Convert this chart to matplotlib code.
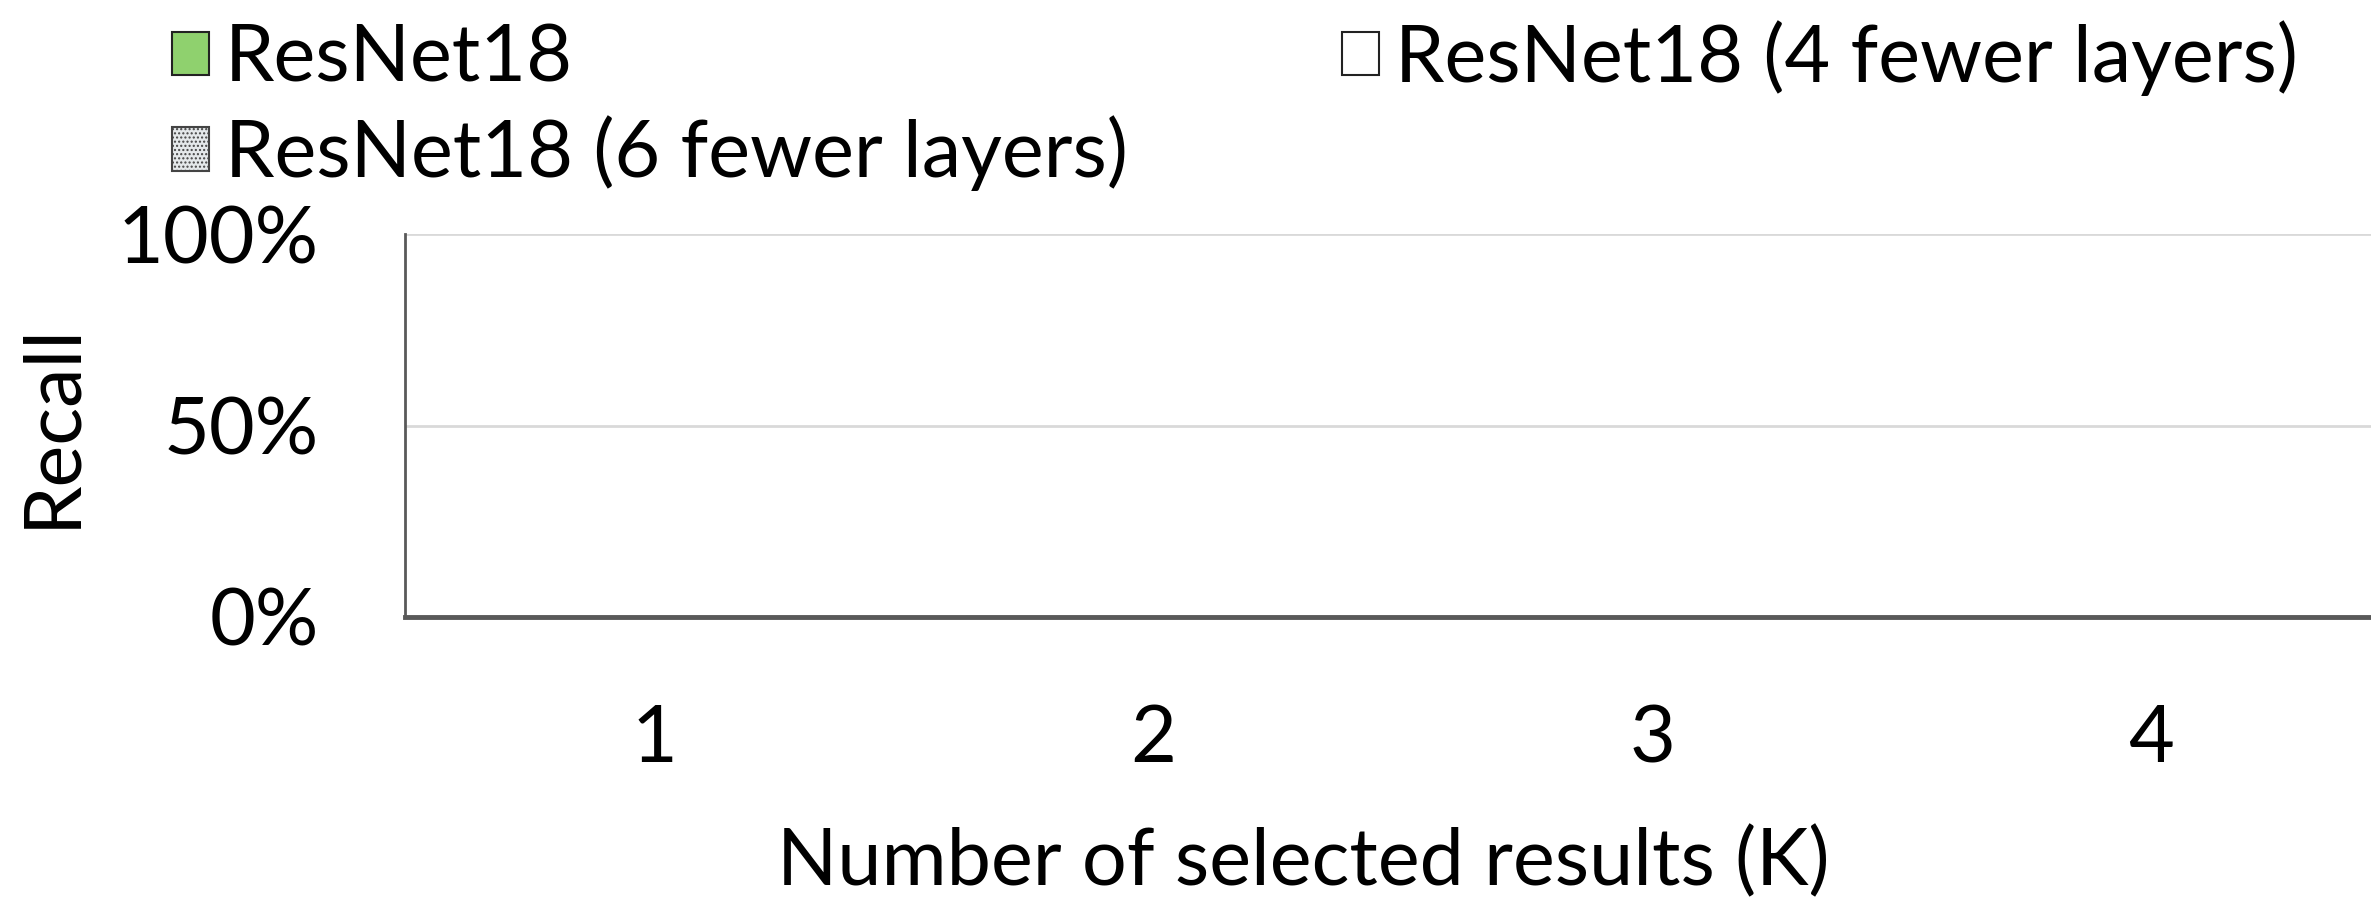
import matplotlib
matplotlib.use("Agg")
import matplotlib.pyplot as plt
import numpy as np

# dane (wykres w tej klatce jest pusty - wszystkie słupki na 0)
categories = ["1", "2", "3", "4"]
series_names = ["ResNet18", "ResNet18 (4 fewer layers)", "ResNet18 (6 fewer layers)"]
recall_resnet18 = [0, 0, 0, 0]
recall_4fewer = [0, 0, 0, 0]
recall_6fewer = [0, 0, 0, 0]
y_ticks = [0, 50, 100]

plt.rcParams["font.family"] = ["Lato", "DejaVu Sans"]
FS = 57

fig = plt.figure(figsize=(23.71, 8.98), dpi=100)
ax = fig.add_axes([405 / 2371, 1 - 617 / 898, 1 - 405 / 2371, (617 - 234) / 898])

x = np.arange(len(categories))
w = 0.25
b1 = ax.bar(x - w, recall_resnet18, w, color="#8fd16e", edgecolor="#222222",
            linewidth=1.5, label=series_names[0])
b2 = ax.bar(x, recall_4fewer, w, color="white", edgecolor="#222222",
            linewidth=1.5, label=series_names[1])
b3 = ax.bar(x + w, recall_6fewer, w, color="#e4e8ea", edgecolor="#444444",
            hatch="....", linewidth=1.5, label=series_names[2])

ax.set_xlim(-0.5, -0.5 + (2371 - 405) / 499)
ax.set_ylim(0, 100)
ax.set_yticks(y_ticks)
ax.set_yticklabels([f"{v}%" for v in y_ticks], fontsize=FS)
ax.set_xticks(x)
ax.set_xticklabels(categories, fontsize=FS)
ax.tick_params(axis="y", length=0, pad=62)
ax.tick_params(axis="x", length=0, pad=63)

ax.grid(axis="y", color="#d9d9d9", linewidth=2)
ax.set_axisbelow(True)
for s in ["top", "right"]:
    ax.spines[s].set_visible(False)
ax.spines["bottom"].set_color("#595959")
ax.spines["bottom"].set_linewidth(3.5)
ax.spines["bottom"].set_zorder(5)
ax.spines["left"].set_color("#595959")
ax.spines["left"].set_linewidth(2)

ax.set_xlabel("Number of selected results (K)", fontsize=FS)
ax.xaxis.set_label_coords(0.457, -0.545)
ax.set_ylabel("Recall", fontsize=FS)
ax.yaxis.set_label_coords(-0.161, 0.50)

# legenda: wiersz 1 -> ResNet18 | 4 fewer, wiersz 2 -> 6 fewer
fig.legend([b1, b3, b2], [series_names[0], series_names[2], series_names[1]],
           ncol=2, loc="upper left", bbox_to_anchor=(172 / 2371, 0.978),
           frameon=False, fontsize=FS, handlelength=0.47, handleheight=0.47,
           handletextpad=0.2, columnspacing=2.7, labelspacing=0.25,
           borderpad=0, borderaxespad=0)

plt.savefig("out.png", dpi=100)
